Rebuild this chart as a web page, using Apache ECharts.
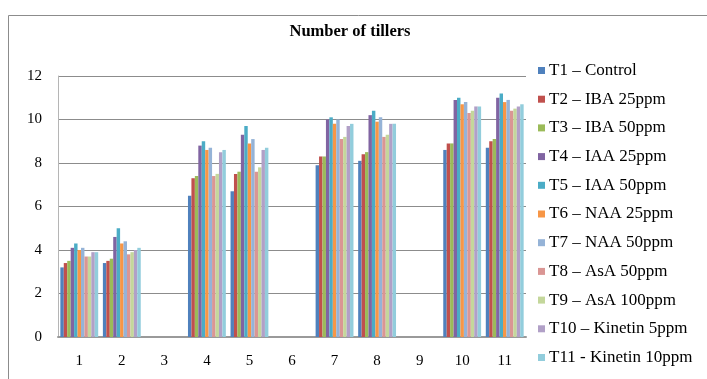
<!DOCTYPE html>
<html>
<head>
<meta charset="utf-8">
<script src="https://cdn.jsdelivr.net/npm/echarts@6/dist/echarts.min.js"></script>
<style>
  html, body { margin: 0; padding: 0; background: #fff; }
  #chart { width: 707px; height: 379px; }
</style>
</head>
<body>
<div id="chart"></div>
<script>
// Sampling weeks on the x axis (3, 6 and 9 carry no observations)
const weeks = ['1', '2', '3', '4', '5', '6', '7', '8', '9', '10', '11'];

// Treatment names, in legend order
const treatments = [
  'T1 – Control', 'T2 – IBA 25ppm', 'T3 – IBA 50ppm', 'T4 – IAA 25ppm',
  'T5 – IAA 50ppm', 'T6 – NAA 25ppm', 'T7 – NAA 50ppm', 'T8 – AsA 50ppm',
  'T9 – AsA 100ppm', 'T10 – Kinetin 5ppm', 'T11 - Kinetin 10ppm'
];

// Mean number of tillers per treatment for each week (null = not recorded)
const t1  = [3.2, 3.4, null, 6.5, 6.7, null, 7.9, 8.1, null, 8.6, 8.7];
const t2  = [3.4, 3.5, null, 7.3, 7.5, null, 8.3, 8.4, null, 8.9, 9.0];
const t3  = [3.5, 3.6, null, 7.4, 7.6, null, 8.3, 8.5, null, 8.9, 9.1];
const t4  = [4.1, 4.6, null, 8.8, 9.3, null, 10.0, 10.2, null, 10.9, 11.0];
const t5  = [4.3, 5.0, null, 9.0, 9.7, null, 10.1, 10.4, null, 11.0, 11.2];
const t6  = [4.0, 4.3, null, 8.6, 8.9, null, 9.8, 9.9, null, 10.7, 10.8];
const t7  = [4.1, 4.4, null, 8.7, 9.1, null, 10.0, 10.1, null, 10.8, 10.9];
const t8  = [3.7, 3.8, null, 7.4, 7.6, null, 9.1, 9.2, null, 10.3, 10.4];
const t9  = [3.7, 3.9, null, 7.5, 7.8, null, 9.2, 9.3, null, 10.4, 10.5];
const t10 = [3.9, 4.0, null, 8.5, 8.6, null, 9.7, 9.8, null, 10.6, 10.6];
const t11 = [3.9, 4.1, null, 8.6, 8.7, null, 9.8, 9.8, null, 10.6, 10.7];

// Y axis ticks
const yMin = 0, yMax = 12, yStep = 2;

const values = [t1, t2, t3, t4, t5, t6, t7, t8, t9, t10, t11];
const colors = [
  '#4F81BD', '#C0504D', '#9BBB59', '#8064A2', '#4BACC6', '#F79646',
  '#95B3D7', '#DA9694', '#C4D79B', '#B1A0C7', '#92CDDC'
];

const serif = '"Liberation Serif", "DejaVu Serif", serif';

const chart = echarts.init(document.getElementById('chart'), null, { renderer: 'canvas' });

chart.setOption({
  animation: false,
  color: colors,
  graphic: [{
    type: 'rect',
    shape: { x: 8.5, y: 15.5, width: 760, height: 420 },
    style: { fill: 'none', stroke: '#8c8c8c', lineWidth: 1 },
    silent: true
  }],
  title: {
    text: 'Number of tillers',
    left: 345, top: 18,
    textAlign: 'center',
    textStyle: { fontFamily: serif, fontSize: 16.5, fontWeight: 'bold', color: '#000' }
  },
  legend: {
    orient: 'vertical',
    left: 533, top: 57,
    itemWidth: 7, itemHeight: 7,
    itemGap: 11.7,
    icon: 'rect',
    textStyle: { fontFamily: serif, fontSize: 17, color: '#000', padding: [0, 0, 0, -1] },
    data: treatments
  },
  grid: { left: 58, top: 76, width: 468, height: 261, containLabel: false },
  xAxis: {
    type: 'category',
    data: weeks,
    axisTick: { show: false },
    axisLine: { lineStyle: { color: '#9a9a9a', width: 2 } },
    axisLabel: { fontFamily: serif, fontSize: 15, color: '#000', margin: 17 }
  },
  yAxis: {
    type: 'value',
    min: yMin, max: yMax, interval: yStep,
    axisLine: { show: true, lineStyle: { color: '#b5b5b5', width: 1 } },
    axisTick: { show: false },
    splitLine: { lineStyle: { color: '#8c8c8c', width: 1 } },
    axisLabel: { fontFamily: serif, fontSize: 15, color: '#000', margin: 16 }
  },
  series: treatments.map((name, i) => ({
    name: name,
    type: 'bar',
    data: values[i],
    barGap: '0%',
    barCategoryGap: '11%',
    itemStyle: { color: colors[i] }
  }))
});
</script>
</body>
</html>
